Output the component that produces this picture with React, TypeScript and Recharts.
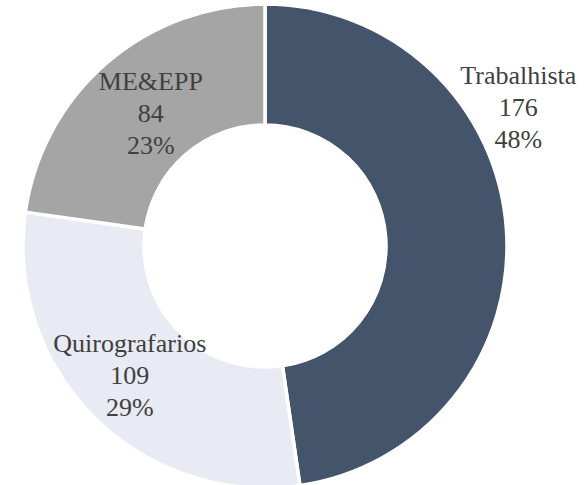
import React from 'react';
import { PieChart, Pie, Cell } from 'recharts';

const categories = ['Trabalhista', 'Quirografarios', 'ME&EPP'];
const values = [176, 109, 84];
const percentLabels = ['48%', '29%', '23%'];
const colors = ['#44546A', '#E8EAF4', '#A5A5A5'];

// label anchor per slice: polar position (deg, px from centre), Excel-style hand placement
const labelAnchors = [
  { angle: 28.4, radius: 288 },
  { angle: -136, radius: 188 },
  { angle: 131, radius: 174 },
];

const data = categories.map((name, i) => ({ name, value: values[i] }));

const RAD = Math.PI / 180;

const renderLabel = (props: any) => {
  const { cx, cy, index } = props;
  const a = labelAnchors[index];
  const x = cx + a.radius * Math.cos(a.angle * RAD);
  const y = cy - a.radius * Math.sin(a.angle * RAD);
  const lines = [categories[index], String(values[index]), percentLabels[index]];
  return (
    <text
      x={x}
      y={y}
      textAnchor="middle"
      fill="#404040"
      fontFamily="'Liberation Serif', serif"
      fontSize={26}
    >
      {lines.map((t, i) => (
        <tspan key={i} x={x} y={y + (i - 1) * 32 + 7}>
          {t}
        </tspan>
      ))}
    </text>
  );
};

export default function App() {
  return (
    <div style={{ position: 'absolute', left: 0, top: 0, width: 588, height: 485, background: '#fff' }}>
      <PieChart width={588} height={485} margin={{ top: 0, right: 0, bottom: 0, left: 0 }}>
        <Pie
          data={data}
          dataKey="value"
          nameKey="name"
          cx={265}
          cy={246}
          innerRadius={121}
          outerRadius={242}
          startAngle={90}
          endAngle={-270}
          stroke="#ffffff"
          strokeWidth={3.5}
          label={renderLabel}
          labelLine={false}
          isAnimationActive={false}
        >
          {data.map((d, i) => (
            <Cell key={d.name} fill={colors[i]} />
          ))}
        </Pie>
      </PieChart>
    </div>
  );
}
